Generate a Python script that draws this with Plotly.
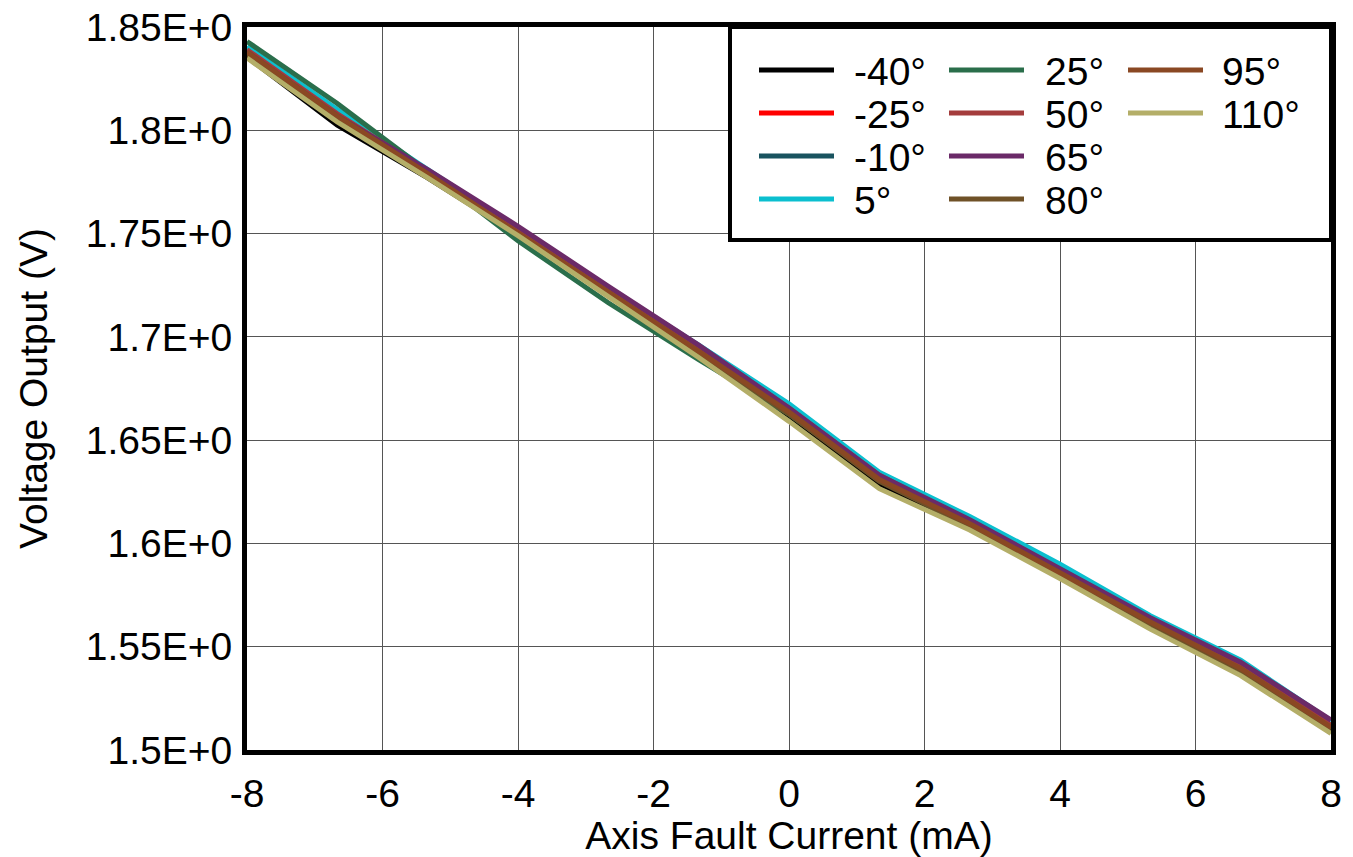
import plotly.graph_objects as go

current_ma = [-8, -6.667, -5.333, -4, -2.667, -1.333, 0, 1.333, 2.667, 4, 5.333, 6.667, 8]

v_m40 = [1.8355, 1.8025, 1.777, 1.7495, 1.7205, 1.692, 1.6616, 1.629, 1.6075, 1.584, 1.560, 1.5375, 1.509]
v_m25 = [1.837, 1.805, 1.778, 1.7495, 1.7215, 1.693, 1.6636, 1.631, 1.6095, 1.586, 1.562, 1.5395, 1.511]
v_m10 = [1.838, 1.806, 1.778, 1.7495, 1.721, 1.693, 1.664, 1.6315, 1.610, 1.5865, 1.5625, 1.540, 1.5115]
v_5 = [1.8405, 1.810, 1.781, 1.7525, 1.7235, 1.696, 1.6676, 1.6345, 1.613, 1.590, 1.565, 1.5435, 1.514]
v_25 = [1.843, 1.813, 1.780, 1.7465, 1.7165, 1.689, 1.6626, 1.631, 1.6095, 1.586, 1.562, 1.5395, 1.511]
v_50 = [1.839, 1.808, 1.780, 1.7525, 1.7235, 1.695, 1.6656, 1.633, 1.6105, 1.587, 1.563, 1.5405, 1.512]
v_65 = [1.838, 1.807, 1.781, 1.7535, 1.7245, 1.696, 1.6656, 1.633, 1.6115, 1.588, 1.564, 1.5425, 1.5145]
v_80 = [1.837, 1.806, 1.778, 1.7495, 1.7205, 1.692, 1.6626, 1.630, 1.6085, 1.585, 1.561, 1.5385, 1.510]
v_95 = [1.838, 1.807, 1.779, 1.7505, 1.7215, 1.693, 1.6636, 1.631, 1.6095, 1.586, 1.562, 1.5395, 1.511]
v_110 = [1.835, 1.804, 1.777, 1.749, 1.7195, 1.690, 1.6591, 1.6265, 1.6065, 1.583, 1.5585, 1.536, 1.508]

series_names = ["-40°", "-25°", "-10°", "5°", "25°", "50°", "65°", "80°", "95°", "110°"]
series_values = [v_m40, v_m25, v_m10, v_5, v_25, v_50, v_65, v_80, v_95, v_110]
series_colors = ["#000000", "#ff0000", "#19535f", "#0bbfcf", "#2a6e4b", "#a43c3c", "#6b2a68",
                 "#6f5127", "#8a4823", "#b4ae68"]

x_ticks = [-8, -6, -4, -2, 0, 2, 4, 6, 8]
y_ticks = [1.5, 1.55, 1.6, 1.65, 1.7, 1.75, 1.8, 1.85]
y_tick_labels = ["1.5E+0", "1.55E+0", "1.6E+0", "1.65E+0", "1.7E+0", "1.75E+0", "1.8E+0", "1.85E+0"]

FONT = "Liberation Sans, Arial, sans-serif"
FS = 39
W, H = 1353, 857
L, R, T, B = 247, 1331, 27, 750   # plot area in page pixels

fig = go.Figure()
for name, vals, col in zip(series_names, series_values, series_colors):
    fig.add_trace(go.Scatter(x=current_ma, y=vals, mode="lines", name=name,
                             line=dict(color=col, width=5), showlegend=False))

def px_x(p):
    return (p - L) / (R - L)

def px_y(p):
    return (B - p) / (B - T)

shapes = []
annotations = []
shapes.append(dict(type="rect", xref="paper", yref="paper",
                   x0=px_x(730), x1=px_x(1331), y0=px_y(240), y1=px_y(27),
                   line=dict(color="black", width=4), fillcolor="white", layer="above"))
col_line_x = [(759, 834), (949, 1024), (1128, 1203)]
col_text_x = [852, 1043, 1220]
row_y = [70, 113, 156, 199]
order = [[0, 1, 2, 3], [4, 5, 6, 7], [8, 9]]
for c, idxs in enumerate(order):
    for r, i in enumerate(idxs):
        shapes.append(dict(type="line", xref="paper", yref="paper",
                           x0=px_x(col_line_x[c][0]), x1=px_x(col_line_x[c][1]),
                           y0=px_y(row_y[r]), y1=px_y(row_y[r]),
                           line=dict(color=series_colors[i], width=5), layer="above"))
        annotations.append(dict(xref="paper", yref="paper", x=px_x(col_text_x[c]), y=px_y(row_y[r] + 1),
                                text=series_names[i], showarrow=False, xanchor="left", yanchor="middle",
                                font=dict(family=FONT, size=FS, color="black")))

fig.update_layout(
    width=W, height=H,
    margin=dict(l=L, r=W - R, t=T, b=H - B, autoexpand=False),
    paper_bgcolor="white", plot_bgcolor="white",
    font=dict(family=FONT, size=FS, color="black"),
    shapes=shapes, annotations=annotations,
    xaxis=dict(range=[-8, 8], tickvals=x_ticks, ticktext=[str(v) for v in x_ticks],
               showgrid=True, gridcolor="#555555", gridwidth=1.2,
               showline=True, linecolor="black", linewidth=5, mirror=True,
               ticks="", zeroline=False, tickfont=dict(size=FS), ticklabelstandoff=5,
               ticklabeloverflow="allow",
               title=dict(text="Axis Fault Current (mA)", font=dict(size=FS), standoff=2)),
    yaxis=dict(range=[1.5, 1.85], tickvals=y_ticks, ticktext=y_tick_labels,
               showgrid=True, gridcolor="#555555", gridwidth=1.2,
               showline=True, linecolor="black", linewidth=5, mirror=True,
               ticks="", zeroline=False, tickfont=dict(size=FS), ticklabelstandoff=2,
               ticklabeloverflow="allow",
               title=dict(text="Voltage Output (V)", font=dict(size=FS), standoff=28)),
)

fig.write_html("out.html", config={"displayModeBar": False},
               post_script="document.body.style.margin='0px';")
